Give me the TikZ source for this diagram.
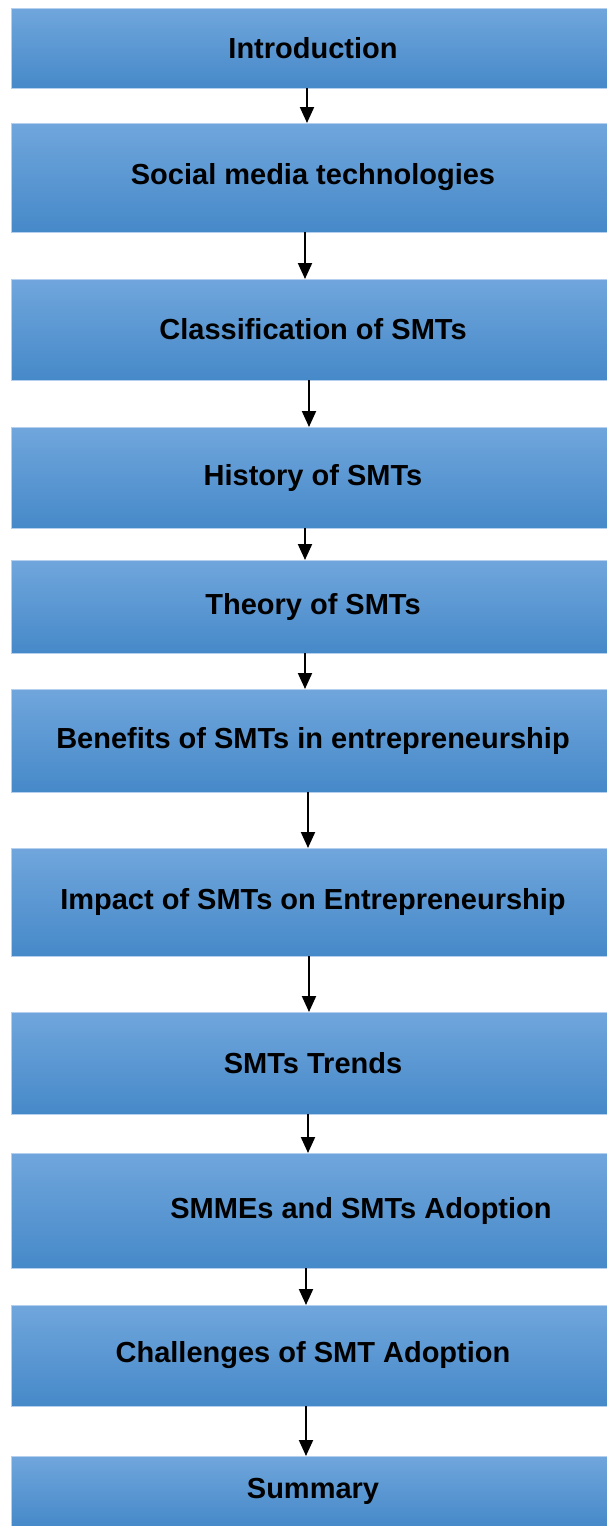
\documentclass[tikz,border=0pt]{standalone}
\usepackage{fontspec}
\setmainfont{Liberation Sans}
\usetikzlibrary{arrows.meta}
\definecolor{boxtop}{RGB}{112,166,220}
\definecolor{boxmid}{RGB}{88,153,216}
\definecolor{boxbot}{RGB}{70,137,201}
\definecolor{boxedge}{RGB}{180,208,238}

\begin{document}
\begin{tikzpicture}[
	x=1pt, y=-1pt,
	topic/.style={draw=boxedge, line width=0.8pt,
		top color=boxtop, middle color=boxmid, bottom color=boxbot,
		minimum width=604pt, inner sep=0pt, outer sep=0pt,
		font=\bfseries\fontsize{29}{34}\selectfont},
	flow/.style={line width=2pt, -{Triangle[width=14pt,length=16pt]}}]
\useasboundingbox (0,0) rectangle (606,1526);

% chapter boxes, top to bottom (right side runs off the page)
\node[topic, minimum height=80pt]  (intro)    at (313,48)     {Introduction};
\node[topic, minimum height=109pt] (smt)      at (313,177.5)  {Social media technologies};
\node[topic, minimum height=101pt] (classif)  at (313,329.5)  {Classification of SMTs};
\node[topic, minimum height=101pt] (history)  at (313,477.5)  {History of SMTs};
\node[topic, minimum height=93pt]  (theory)   at (313,606.5)  {Theory of SMTs};
\node[topic, minimum height=103pt] (benefits) at (313,740.5)  {Benefits of SMTs in entrepreneurship};
\node[topic, minimum height=108pt] (impact)   at (313,902)    {Impact of SMTs on Entrepreneurship};
\node[topic, minimum height=102pt] (trends)   at (313,1063)   {SMTs Trends};
\node[topic, minimum height=115pt] (smmes)    at (313,1210.5) {\hspace*{96pt}SMMEs and SMTs Adoption};
\node[topic, minimum height=101pt] (challeng) at (313,1355.5) {Challenges of SMT Adoption};
\node[topic, minimum height=70pt]  (summary)  at (313,1491)   {Summary};

% arrows
\draw[flow] ([xshift=-6pt]intro.south)    -- ([xshift=-6pt]smt.north);
\draw[flow] ([xshift=-8pt]smt.south)      -- ([xshift=-8pt]classif.north);
\draw[flow] ([xshift=-4pt]classif.south)  -- ([xshift=-4pt]history.north);
\draw[flow] ([xshift=-8pt]history.south)  -- ([xshift=-8pt]theory.north);
\draw[flow] ([xshift=-8pt]theory.south)   -- ([xshift=-8pt]benefits.north);
\draw[flow] ([xshift=-5pt]benefits.south) -- ([xshift=-5pt]impact.north);
\draw[flow] ([xshift=-4pt]impact.south)   -- ([xshift=-4pt]trends.north);
\draw[flow] ([xshift=-5pt]trends.south)   -- ([xshift=-5pt]smmes.north);
\draw[flow] ([xshift=-7pt]smmes.south)    -- ([xshift=-7pt]challeng.north);
\draw[flow] ([xshift=-7pt]challeng.south) -- ([xshift=-7pt]summary.north);
\end{tikzpicture}
\end{document}
